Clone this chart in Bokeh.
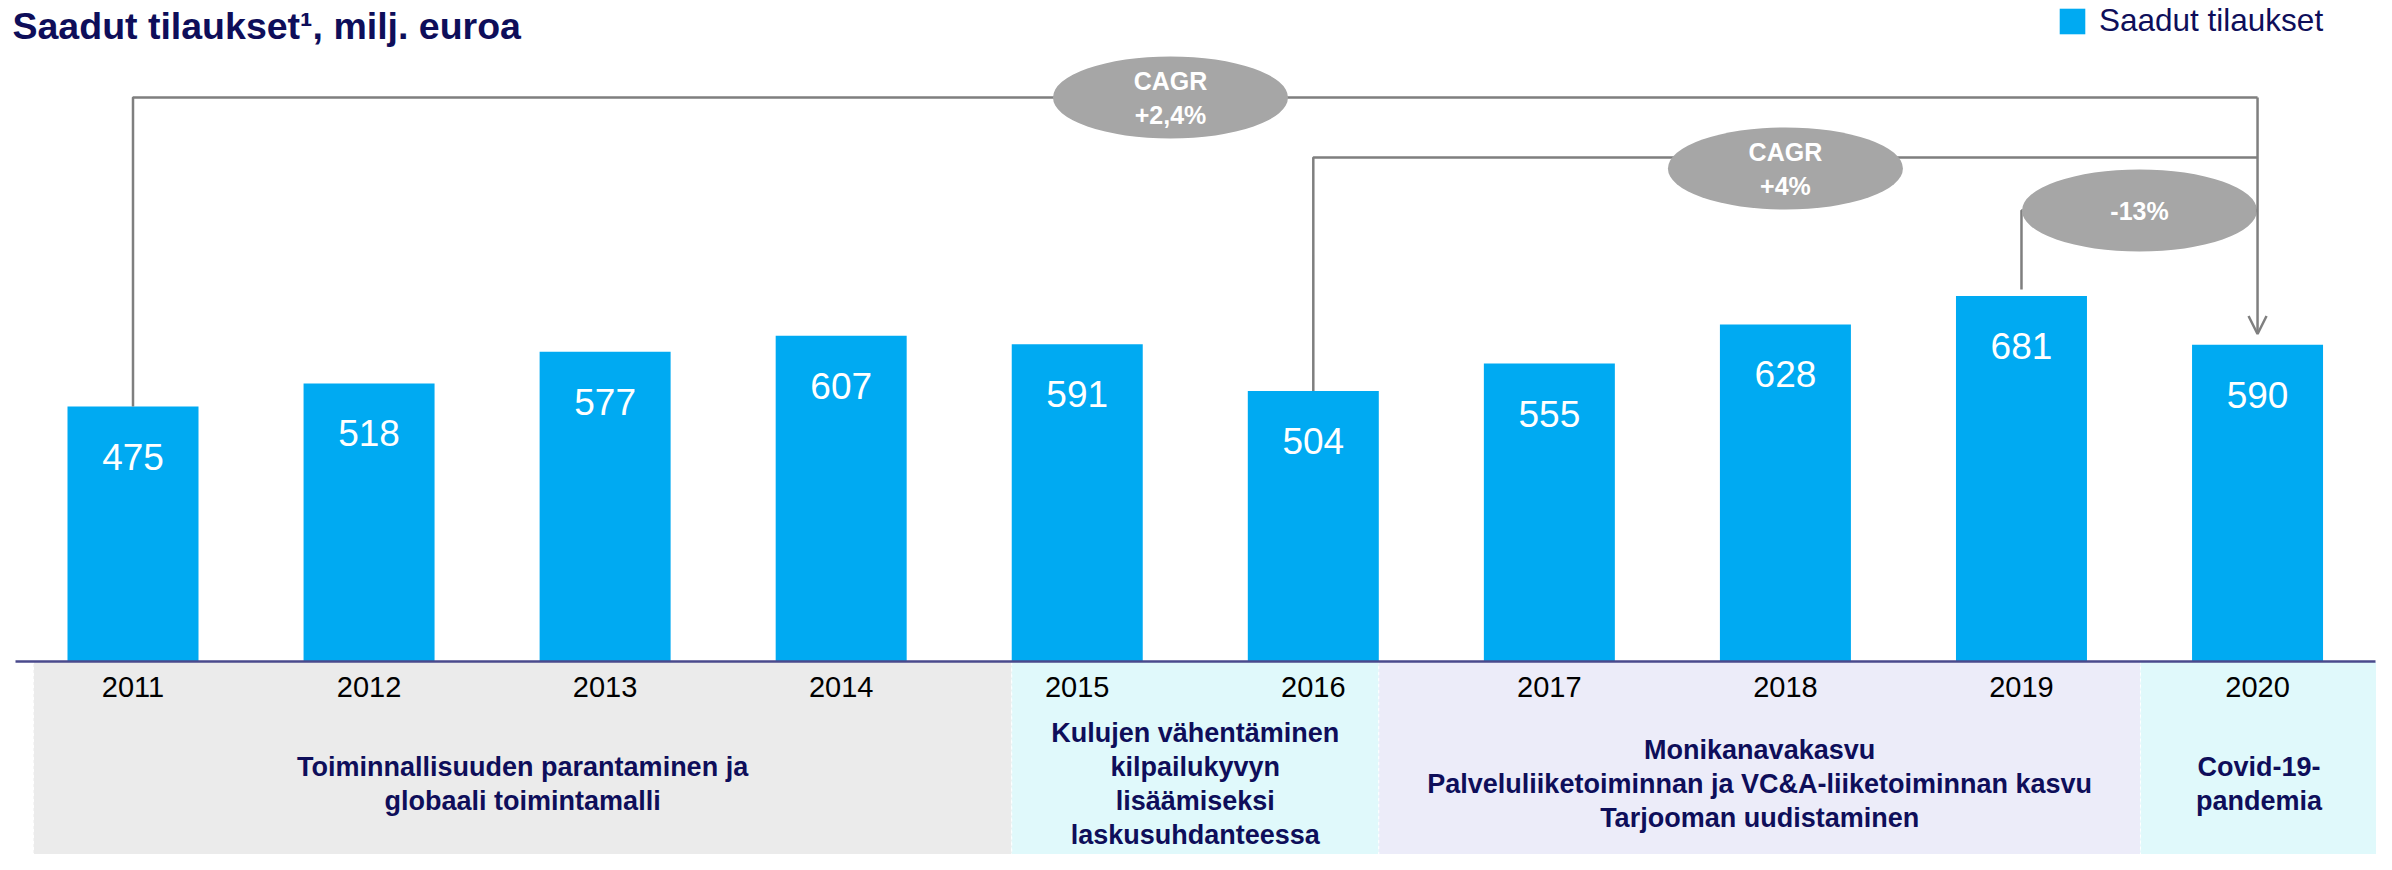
from bokeh.plotting import figure
from bokeh.models import Range1d, Arrow, OpenHead, Legend, LegendItem, ColumnDataSource
from bokeh.core.properties import value
from bokeh.embed import file_html
from bokeh.resources import INLINE

# ---------------- data ----------------
years = [2011, 2012, 2013, 2014, 2015, 2016, 2017, 2018, 2019, 2020]
orders = [475, 518, 577, 607, 591, 504, 555, 628, 681, 590]
year_labels = [str(y) for y in years]
series_name = "Saadut tilaukset"
title_text = "Saadut tilaukset\u00b9, milj. euroa"

phase_first = [2011, 2015, 2017, 2020]
phase_last = [2014, 2016, 2019, 2020]
phase_texts = [
    ["Toiminnallisuuden parantaminen ja", "globaali toimintamalli"],
    ["Kulujen vähentäminen", "kilpailukyvyn", "lisäämiseksi", "laskusuhdanteessa"],
    ["Monikanavakasvu", "Palveluliiketoiminnan ja VC&A-liiketoiminnan kasvu", "Tarjooman uudistaminen"],
    ["Covid-19-", "pandemia"],
]

growth_from = [2011, 2016, 2019]
growth_to = 2020
growth_texts = [["CAGR", "+2,4%"], ["CAGR", "+4%"], ["-13%"]]

# ---------------- styling / geometry ----------------
W, H = 2376, 854
PX_YEAR = 236.06
PX_UNIT = 0.5368
x_start = 2011 - 132.5 / PX_YEAR
x_end = x_start + W / PX_YEAR
y_end = 661 / PX_UNIT
y_start = y_end - H / PX_UNIT

def fx(px):
    return x_start + px / PX_YEAR

def fy(py):
    return y_end - py / PX_UNIT

BAR_W = 131 / PX_YEAR
BAR_COLOR = "#00aaf2"
NAVY = "#0e0e5a"
GREY_LINE = "#7f7f7f"
ELL_COLOR = "#a6a6a6"
FONT = "Liberation Sans"
band_colors = ["#ebebeb", "#e0f9fb", "#ececf9", "#e0f9fb"]

p = figure(width=W, height=H, x_range=Range1d(x_start, x_end), y_range=Range1d(y_start, y_end),
           output_backend="svg", toolbar_location=None, min_border=0)
p.axis.visible = False
p.grid.visible = False
p.outline_line_color = None
p.background_fill_color = "white"
p.border_fill_color = "white"

# phase bands
idx = {y: i for i, y in enumerate(years)}
band_left = [fx(33), phase_first[1] - BAR_W / 2, phase_last[1] + BAR_W / 2, fx(2140)]
band_right = [phase_first[1] - BAR_W / 2, phase_last[1] + BAR_W / 2, fx(2140), fx(2377)]
p.quad(left=band_left, right=band_right, top=[0] * 4, bottom=[y_start] * 4,
       fill_color=band_colors, line_color="white", line_dash="3 3", line_width=1)

for l, r, lines in zip(band_left, band_right, phase_texts):
    n = len(lines)
    cx = (l + r) / 2
    for i, t in enumerate(lines):
        off = 122 + (i - (n - 1) / 2) * 34
        p.text(x=[cx], y=[0], text=[t], y_offset=off, text_align="center", text_baseline="middle",
               text_font=value(FONT), text_font_style="bold", text_font_size="27px", text_color=NAVY)

# bars
src = ColumnDataSource(dict(x=years, top=orders, label=[str(v) for v in orders], yl=year_labels))
bars = p.vbar(x="x", top="top", bottom=0, width=BAR_W, source=src, fill_color=BAR_COLOR, line_color=None)

# axis line
p.segment(x0=[fx(15)], y0=[0], x1=[fx(2375)], y1=[0], line_color="#4a4a8c", line_width=2.5)

# value labels
p.text(x="x", y="top", text="label", source=src, y_offset=50, text_align="center", text_baseline="middle",
       text_font=value(FONT), text_font_size="37px", text_color="white")
# year labels
p.text(x="x", y=0, text="yl", source=src, y_offset=25, text_align="center", text_baseline="middle",
       text_font=value(FONT), text_font_size="29px", text_color="black")

# growth brackets
levels = [fy(97), fy(157), fy(210)]
start_gap = [0, 0, 12]
xs, ys = [], []
for g, lvl, gap in zip(growth_from, levels, start_gap):
    xs.append([g, g, growth_to])
    ys.append([orders[idx[g]] + gap, lvl, lvl])
p.multi_line(xs=xs, ys=ys, line_color=GREY_LINE, line_width=2.5)
p.add_layout(Arrow(end=OpenHead(line_color=GREY_LINE, line_width=2.5, size=18),
                   x_start=growth_to, y_start=levels[0], x_end=growth_to,
                   y_end=orders[idx[growth_to]] + 20, line_color=GREY_LINE, line_width=2.5))

ell_x = [fx(1170), (growth_from[1] + growth_to) / 2, (growth_from[2] + growth_to) / 2]
ell_y = [levels[0], fy(168), levels[2]]
p.ellipse(x=ell_x, y=ell_y, width=235, height=82, width_units="screen", height_units="screen",
          fill_color=ELL_COLOR, line_color=None)
for ex, ey, lines in zip(ell_x, ell_y, growth_texts):
    n = len(lines)
    for i, t in enumerate(lines):
        off = (i - (n - 1) / 2) * 34
        p.text(x=[ex], y=[ey], text=[t], y_offset=off, text_align="center", text_baseline="middle",
               text_font=value(FONT), text_font_style="bold", text_font_size="25px", text_color="white")

# title
p.text(x=[fx(12)], y=[fy(25)], text=[title_text], text_align="left", text_baseline="middle",
       text_font=value(FONT), text_font_style="bold", text_font_size="37.5px", text_color=NAVY)

# legend
legend = Legend(items=[LegendItem(label=series_name, renderers=[bars])], location=(2056, 815),
                border_line_color=None, background_fill_alpha=0, padding=0, margin=0,
                glyph_width=32, glyph_height=32, label_standoff=11,
                label_text_font=FONT, label_text_font_size="31.5px", label_text_color=NAVY)
p.add_layout(legend)

open("out.html", "w").write(file_html(p, INLINE))
